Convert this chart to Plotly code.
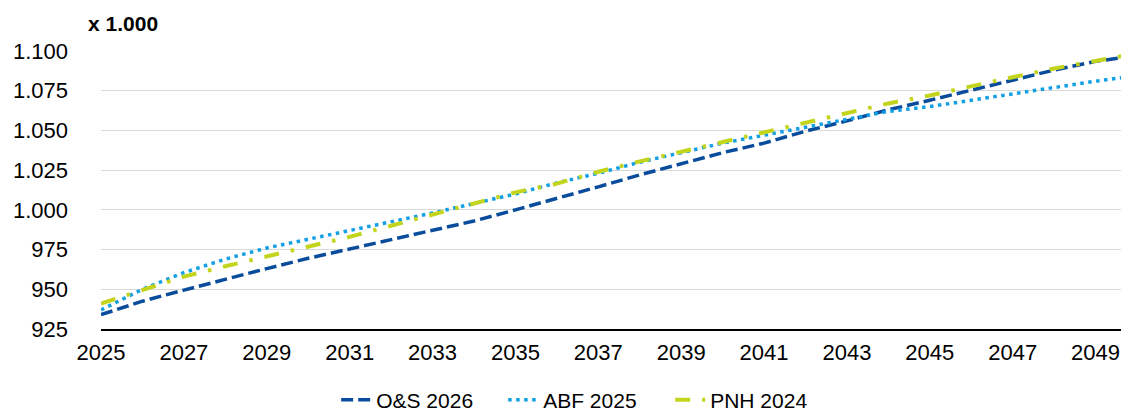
import plotly.graph_objects as go

years = list(range(2025, 2051))

os_2026 = [934, 942.5, 949.5, 956.5, 963, 969.5, 975.5, 981, 987, 993, 1000,
           1007, 1014.5, 1022, 1029, 1036, 1042, 1049.5, 1056, 1063,
           1069, 1075.5, 1082, 1088, 1093.5, 1097]
abf_2025 = [937, 950, 960.5, 969, 976, 981.5, 986.5, 992, 998, 1004, 1010,
            1017, 1023, 1030, 1036, 1042, 1047, 1052, 1057, 1062,
            1065, 1069, 1073.5, 1077.5, 1081, 1084.5]
pnh_2024 = [941, 949.5, 958, 964.5, 970.5, 977, 983, 990, 997, 1004, 1011,
            1016.5, 1024, 1030.5, 1036.5, 1043, 1049, 1055, 1061, 1067,
            1072, 1078, 1083.5, 1089, 1094, 1098.5]

series_names = ["O&S 2026", "ABF 2025", "PNH 2024"]
y_ticks = [925, 950, 975, 1000, 1025, 1050, 1075, 1100]
x_ticks = list(range(2025, 2050, 2))
unit_label = "x 1.000"

font_family = "Liberation Sans, Arial, sans-serif"

fig = go.Figure()
fig.add_trace(go.Scatter(x=years, y=os_2026, name=series_names[0], mode="lines",
                         line=dict(color="#0a4c9c", width=3.5, dash="12px,5px")))
fig.add_trace(go.Scatter(x=years, y=abf_2025, name=series_names[1], mode="lines",
                         line=dict(color="#139fe4", width=3.5, dash="3.5px,4.5px")))
fig.add_trace(go.Scatter(x=years, y=pnh_2024, name=series_names[2], mode="lines",
                         line=dict(color="#c3d41c", width=4, dash="15px,12px,3.5px,12px")))

fig.update_layout(
    width=1129, height=413,
    margin=dict(l=93, r=0, t=43, b=85),
    paper_bgcolor="white", plot_bgcolor="white",
    separators=",.",
    font=dict(family=font_family, size=22, color="#000"),
    showlegend=True,
    legend=dict(orientation="h", x=0.227, xanchor="left", y=-0.256, yanchor="middle",
                font=dict(size=21), itemwidth=30, traceorder="normal",
                entrywidth=122, entrywidthmode="pixels"),
    xaxis=dict(range=[2025, 2050], tickmode="array", tickvals=x_ticks,
               ticktext=[str(v) for v in x_ticks], showgrid=False, zeroline=False,
               showline=True, linecolor="#000", linewidth=1.5,
               ticks="", ticklabelstandoff=3, tickfont=dict(size=22)),
    yaxis=dict(range=[925, 1100], tickmode="array", tickvals=y_ticks,
               tickformat=",.0f", showgrid=True, gridcolor="#d9d9d9", gridwidth=1.3,
               zeroline=False, showline=False, ticks="", ticklabelstandoff=32,
               tickfont=dict(size=22)),
    annotations=[dict(text="<b>" + unit_label + "</b>", xref="paper", yref="paper",
                      x=-0.014, y=1.0, xanchor="left", yanchor="bottom", yshift=14,
                      showarrow=False, font=dict(size=21, color="#000"))],
)

fig.write_html("out.html")
